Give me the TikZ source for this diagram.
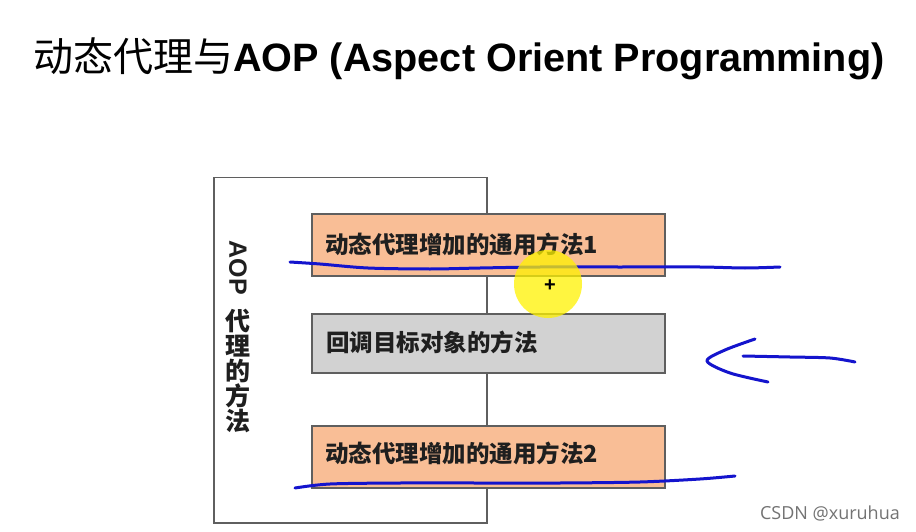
\documentclass[tikz,border=0pt]{standalone}
\usepackage{fontspec}
\setmainfont{Liberation Sans}
\newfontfamily\cjk{Noto Sans CJK SC}
\newfontfamily\wm{Open Sans}
\usetikzlibrary{calc}
\definecolor{peach}{RGB}{249,190,150}
\definecolor{lgrey}{RGB}{210,210,210}
\definecolor{pen}{RGB}{20,20,205}
\definecolor{frame}{RGB}{95,95,95}
\tikzset{
  methodbox/.style={draw=frame, line width=1.6pt, minimum width=353pt, anchor=north west, inner sep=0pt},
  boxtext/.style={font=\cjk\bfseries\fontsize{23.5}{25}\selectfont, anchor=west, inner sep=0pt, text=black!88},
  vtext/.style={font=\cjk\bfseries\fontsize{25}{27}\selectfont, inner sep=0pt, text=black!88},
  ink/.style={draw=pen, line width=3pt, line cap=round, line join=round},
}
\begin{document}
\begin{tikzpicture}[x=1pt,y=-1pt]
\useasboundingbox[fill=white] (0,0) rectangle (916,532);
% title
\node[anchor=west, inner sep=0pt] (title) at (33,59)
  {{\cjk\fontsize{40}{42}\selectfont 动态代理与}{\bfseries\fontsize{39.6}{42}\selectfont AOP (Aspect Orient Programming)}};
% big frame
\node[draw=frame, line width=1.5pt, anchor=north west, minimum width=273pt, minimum height=345pt, inner sep=0pt] (frame) at (213,177) {};
% boxes
\node[methodbox, fill=peach, minimum height=62pt] (m1) at (311,213) {};
\node[methodbox, fill=lgrey, minimum height=59pt] (m0) at (311,313) {};
\node[methodbox, fill=peach, minimum height=62pt] (m2) at (311,425) {};
\node[boxtext] (t1) at ($(m1.west)+(14,0)$) {动态代理增加的通用方法1};
\node[boxtext] (t0) at ($(m0.west)+(15,-1)$) {回调目标对象的方法};
\node[boxtext] (t2) at ($(m2.west)+(14,-3)$) {动态代理增加的通用方法2};
% vertical label
\node[vtext, rotate=-90, font=\bfseries\fontsize{25}{27}\selectfont] (vaop) at (238,268) {AOP};
\node[vtext] (v1) at (238,321) {代};
\node[vtext] (v2) at (238,346) {理};
\node[vtext] (v3) at (238,371) {的};
\node[vtext] (v4) at (238,396) {方};
\node[vtext] (v5) at (238,421) {法};
% hand-drawn ink
\draw[ink] plot[smooth, tension=0.5] coordinates {(290,262) (320,264) (368,268) (430,269) (480,268) (540,267) (620,267) (700,267) (745,268) (780,267)};
\draw[ink] plot[smooth, tension=0.5] coordinates {(295,488) (330,484) (400,483) (480,483) (560,483) (640,482) (700,479) (735,476)};
\draw[ink] plot[smooth, tension=0.5] coordinates {(743,356) (790,357) (830,358) (855,362)};
\draw[ink] plot[smooth, tension=0.5] coordinates {(755,339) (725,350) (707,361) (730,373) (768,382)};
% cursor highlight
\node[circle, fill=yellow, fill opacity=0.75, minimum size=68pt, inner sep=0pt] (hl) at (548,284) {};
\node[font=\bfseries\fontsize{20}{20}\selectfont, inner sep=0pt] (plus) at (550,286) {+};
% watermark
\node[anchor=east, inner sep=0pt, text=black!55, font=\wm\fontsize{18}{20}\selectfont] (wmk) at (900,513) {CSDN @xuruhua};
\end{tikzpicture}
\end{document}
